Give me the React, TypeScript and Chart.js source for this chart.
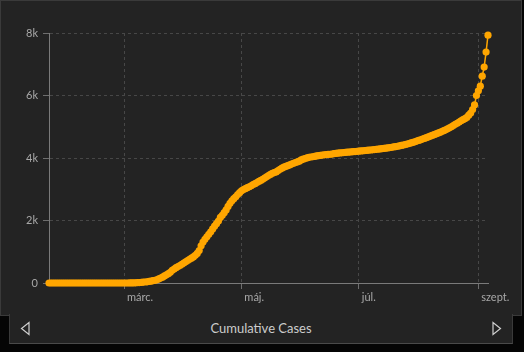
import React, { useEffect, useRef } from "react";
import { Chart, registerables } from "chart.js";

Chart.register(...registerables);

// Cumulative cases, one value per day from 22 Jan to 6 Sep
const janCases = [0, 0, 0, 0, 0, 0, 0, 0, 0, 0];
const febCases = [0, 0, 0, 0, 0, 0, 0, 0, 0, 0, 0, 0, 0, 0, 0, 0, 0, 0, 0, 0, 0, 0, 0, 0, 0, 0, 0, 0, 0];
const marCases = [0, 0, 0, 2, 2, 4, 7, 9, 13, 19, 30, 32, 39, 50, 58, 73, 85, 103, 131, 160, 187, 226, 261, 300, 343, 408, 447, 492, 525, 560, 600];
const aprCases = [640, 680, 720, 760, 795, 835, 885, 945, 1040, 1190, 1310, 1400, 1480, 1560, 1640, 1730, 1820, 1900, 1984, 2098, 2168, 2250, 2340, 2450, 2550, 2630, 2700, 2760, 2830, 2890];
const mayCases = [2950, 2990, 3020, 3050, 3080, 3111, 3150, 3178, 3213, 3250, 3284, 3320, 3360, 3400, 3440, 3473, 3509, 3535, 3556, 3598, 3640, 3675, 3705, 3730, 3756, 3780, 3805, 3830, 3855, 3876, 3900];
const junCases = [3940, 3962, 3982, 4003, 4022, 4032, 4040, 4052, 4066, 4075, 4084, 4096, 4103, 4111, 4116, 4120, 4125, 4138, 4147, 4153, 4161, 4165, 4174, 4180, 4186, 4191, 4196, 4201, 4206, 4214];
const julCases = [4219, 4225, 4231, 4237, 4243, 4249, 4256, 4263, 4270, 4277, 4284, 4291, 4299, 4307, 4315, 4324, 4333, 4343, 4353, 4364, 4376, 4388, 4401, 4415, 4430, 4446, 4463, 4481, 4500, 4520, 4541];
const augCases = [4562, 4583, 4605, 4627, 4650, 4673, 4697, 4721, 4745, 4769, 4793, 4818, 4845, 4873, 4903, 4934, 4966, 5000, 5040, 5080, 5112, 5150, 5190, 5225, 5260, 5300, 5370, 5440, 5550, 5700, 6000];
const sepCases = [6150, 6300, 6620, 6910, 7390, 7930];

// x-axis: day offsets from 22 Jan, month ticks
const monthTickDays = [39, 100, 161, 223];
const monthTickLabels = ["márc.", "máj.", "júl.", "szept."];

// y-axis ticks
const yTickValues = [0, 2000, 4000, 6000, 8000];
const yTickLabels = ["0", "2k", "4k", "6k", "8k"];

const seriesTitle = "Cumulative Cases";

const allCases = [
  ...janCases, ...febCases, ...marCases, ...aprCases, ...mayCases,
  ...junCases, ...julCases, ...augCases, ...sepCases,
];

const ORANGE = "#ffa600";
const FONT = "Lato, 'Open Sans', sans-serif";

export default function App() {
  const canvasRef = useRef<HTMLCanvasElement | null>(null);

  useEffect(() => {
    const canvas = canvasRef.current;
    if (!canvas) return;
    const points = allCases.map((v, i) => ({ x: i, y: v }));
    const chart = new Chart(canvas, {
      type: "line",
      data: {
        datasets: [
          {
            label: seriesTitle,
            data: points,
            borderColor: ORANGE,
            backgroundColor: ORANGE,
            pointBackgroundColor: ORANGE,
            pointBorderColor: ORANGE,
            pointRadius: 3.6,
            pointBorderWidth: 0,
            borderWidth: 1.5,
            tension: 0,
            clip: false as any,
          },
        ],
      },
      options: {
        responsive: false,
        animation: false,
        events: [],
        layout: { padding: { left: 0, top: 33, right: 34, bottom: 0 } },
        plugins: {
          legend: { display: false },
          tooltip: { enabled: false },
          title: { display: false },
        },
        scales: {
          x: {
            type: "linear",
            min: 0,
            max: allCases.length - 1,
            afterBuildTicks: (scale: any) => {
              scale.ticks = monthTickDays.map((d) => ({ value: d }));
            },
            afterFit: (scale: any) => {
              scale.height = 32;
            },
            ticks: {
              autoSkip: false,
              maxRotation: 0,
              align: "start",
              padding: 2,
              color: "#a8a8a8",
              font: { family: FONT, size: 11 },
              callback: (value: any) => {
                const idx = monthTickDays.indexOf(Number(value));
                return idx >= 0 ? " " + monthTickLabels[idx] : "";
              },
            },
            grid: {
              color: "#474747",
              tickColor: "#6e6e6e",
              tickLength: 6,
            },
            border: { display: true, color: "#7a7a7a", dash: [3, 3], width: 1 },
          },
          y: {
            type: "linear",
            min: 0,
            max: 8000,
            afterBuildTicks: (scale: any) => {
              scale.ticks = yTickValues.map((v) => ({ value: v }));
            },
            afterFit: (scale: any) => {
              scale.width = 49;
            },
            ticks: {
              padding: 5,
              color: "#a8a8a8",
              font: { family: FONT, size: 11 },
              callback: (value: any) => {
                const idx = yTickValues.indexOf(Number(value));
                return idx >= 0 ? yTickLabels[idx] : "";
              },
            },
            grid: {
              color: "#474747",
              tickColor: "#6e6e6e",
              tickLength: 6,
            },
            border: { display: true, color: "#7a7a7a", dash: [3, 3], width: 1 },
          },
        },
      },
    });
    return () => chart.destroy();
  }, []);

  return (
    <div style={{ position: "fixed", left: 0, top: 0, width: 524, height: 352, background: "#050505", overflow: "hidden" }}>
      <div
        style={{
          position: "absolute", left: 0, top: 0, width: 522, height: 316,
          boxSizing: "border-box", background: "#232323", border: "1px solid #3a3a3a",
        }}
      />
      <div
        style={{
          position: "absolute", left: 9, top: 314, width: 504, height: 30,
          boxSizing: "border-box", background: "#232323",
          borderLeft: "1px solid #3a3a3a", borderRight: "1px solid #3a3a3a", borderBottom: "1px solid #4a4a4a",
        }}
      >
        <svg width="12" height="16" style={{ position: "absolute", left: 10, top: 7 }}>
          <polygon points="9,1.5 9,13.5 1.5,7.5" fill="none" stroke="#cfcfcf" strokeWidth="1.2" />
        </svg>
        <div
          style={{
            position: "absolute", left: 0, right: 0, top: 6, textAlign: "center",
            fontFamily: FONT, fontSize: 13, color: "#cccccc", lineHeight: "16px",
          }}
        >
          {seriesTitle}
        </div>
        <svg width="12" height="16" style={{ position: "absolute", left: 481, top: 7 }}>
          <polygon points="2,1.5 2,13.5 9.5,7.5" fill="none" stroke="#cfcfcf" strokeWidth="1.2" />
        </svg>
      </div>
      <canvas
        ref={canvasRef}
        width={522}
        height={315}
        style={{ position: "absolute", left: 0, top: 0, width: 522, height: 315 }}
      />
    </div>
  );
}
